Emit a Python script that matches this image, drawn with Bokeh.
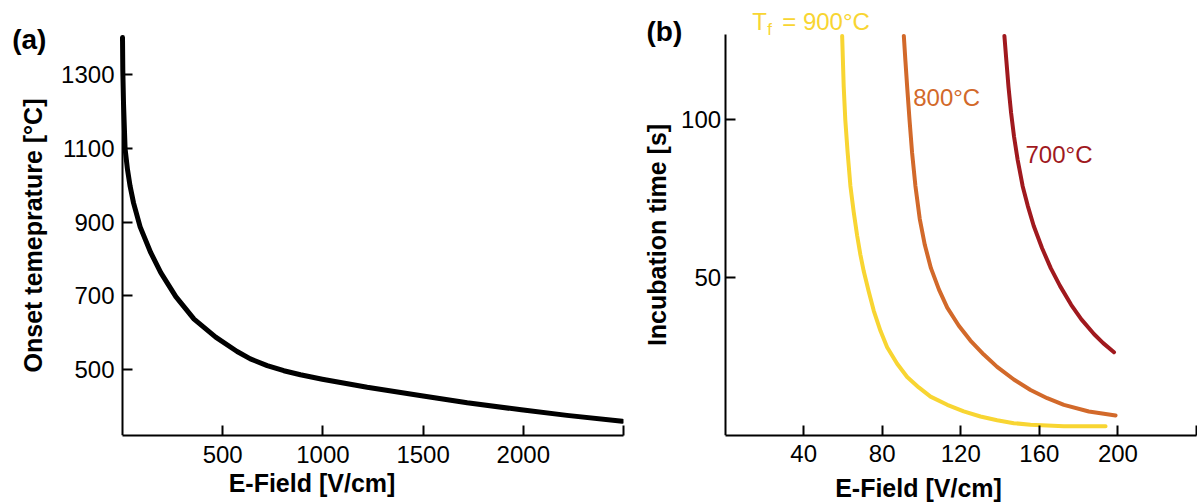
from bokeh.plotting import figure
from bokeh.layouts import row
from bokeh.models import Range1d, FixedTicker, Label
from bokeh.embed import file_html
from bokeh.resources import INLINE

# ---------------- data ----------------
# (a) onset temperature vs E-field
efield_a = [0, 1.5, 5, 13, 25, 38, 55, 88, 141, 191, 266, 357, 465, 572, 638, 722, 805, 888,
            997, 1221, 1492, 1720, 1990, 2218, 2494]
onset_temp = [1400, 1312, 1222, 1098, 1042, 997, 952, 887, 817, 763, 698, 637, 588, 549, 529, 511,
              497, 486, 474, 452, 429, 410, 391, 376, 360]
xticks_a = [500, 1000, 1500, 2000, 2500]
yticks_a = [500, 700, 900, 1100, 1300]

# (b) incubation time vs E-field for three furnace temperatures
efield_900 = [59.6, 60.4, 61.2, 62.4, 63.8, 65.5, 67.2, 68.9, 70.6, 73.1, 75.7, 79.1, 82.5, 87.6,
              92.7, 98.6, 104.6, 113.1, 121.5, 130.0, 138.5, 147.0, 155.5, 172.5, 193.7]
time_900 = [126.3, 110.2, 99.8, 89.4, 78.9, 70.6, 63.3, 57.1, 51.9, 45.6, 39.4, 33.1, 27.9, 22.7,
            18.5, 15.2, 12.3, 9.7, 7.6, 6.0, 4.8, 3.9, 3.4, 2.9, 2.9]
efield_800 = [91.0, 91.8, 92.7, 93.9, 95.2, 96.9, 99.1, 101.7, 104.8, 108.9, 113.1, 119.0, 124.9,
              131.7, 138.5, 147.0, 155.5, 164.0, 172.5, 185.2, 198.8]
time_800 = [126.3, 118.5, 110.2, 99.8, 89.4, 78.9, 68.5, 60.2, 52.9, 46.1, 40.4, 34.7, 30.0,
            25.6, 21.7, 17.7, 14.4, 11.8, 9.7, 7.6, 6.3]
efield_700 = [142.2, 143.2, 144.3, 145.6, 147.1, 148.9, 151.5, 154.1, 157.1, 161.4, 165.8, 170.5,
              176.2, 181.4, 187.9, 192.5, 198.0]
time_700 = [126.3, 118.5, 110.1, 102.0, 94.5, 87.3, 78.8, 72.6, 66.3, 59.2, 52.9, 47.3,
            41.3, 36.7, 32.0, 29.2, 26.3]
xticks_b = [40, 80, 120, 160, 200, 240]
yticks_b = [50, 100]

C900 = "#F8D532"
C800 = "#D2692A"
C700 = "#A0191E"
FONT = "Liberation Sans"


def style(p):
    p.outline_line_color = None
    p.xgrid.visible = False
    p.ygrid.visible = False
    for ax in p.axis:
        ax.axis_line_width = 2
        ax.axis_line_color = "black"
        ax.major_tick_line_width = 2
        ax.major_tick_line_color = "black"
        ax.major_tick_in = 10
        ax.major_tick_out = 0
        ax.minor_tick_line_color = None
        ax.major_label_text_font = FONT
        ax.major_label_text_font_size = "24px"
        ax.major_label_text_color = "black"
        ax.axis_label_text_font = FONT
        ax.axis_label_text_font_size = "25px"
        ax.axis_label_text_font_style = "bold"
        ax.axis_label_text_color = "black"


def label(p, x, y, text, color, size="24px", bold=False):
    p.add_layout(Label(x=x, y=y, text=text, text_font=FONT, text_font_size=size,
                       text_font_style="bold" if bold else "normal",
                       text_color=color, text_baseline="middle", text_align="left"))


# ---------------- panel (a) ----------------
pa = figure(width=640, height=504, output_backend="svg", toolbar_location=None,
            x_range=Range1d(-608.8, 2500), y_range=Range1d(321.4, 1500.6),
            min_border_left=0, min_border_right=17, min_border_top=0, min_border_bottom=67)
style(pa)
pa.line(efield_a, onset_temp, line_width=5, line_color="black", line_cap="round", line_join="round")
pa.xaxis.ticker = FixedTicker(ticks=xticks_a)
pa.xaxis.major_label_overrides = {2500: ""}
pa.xaxis.bounds = (0, 2500)
pa.yaxis.ticker = FixedTicker(ticks=yticks_a)
pa.yaxis.bounds = (321.4, 1406.2)
pa.yaxis.fixed_location = 0
pa.xaxis.axis_label = "E-Field [V/cm]"
pa.yaxis.axis_label = "Onset temeprature [°C]"
pa.xaxis.major_label_standoff = 10
pa.xaxis.axis_label_standoff = 3
pa.yaxis.major_label_standoff = 8
pa.yaxis.axis_label_standoff = 11
label(pa, -550.4, 1394.0, "(a)", "black", size="28px", bold=True)

# ---------------- panel (b) ----------------
pb = figure(width=557, height=504, output_backend="svg", toolbar_location=None,
            x_range=Range1d(-43.06, 240), y_range=Range1d(0, 137.5),
            min_border_left=0, min_border_right=1, min_border_top=0, min_border_bottom=64)
style(pb)
pb.line(efield_900, time_900, line_width=4, line_color=C900, line_cap="round", line_join="round")
pb.line(efield_800, time_800, line_width=4, line_color=C800, line_cap="round", line_join="round")
pb.line(efield_700, time_700, line_width=4, line_color=C700, line_cap="round", line_join="round")
pb.xaxis.ticker = FixedTicker(ticks=xticks_b)
pb.xaxis.major_label_overrides = {240: ""}
pb.xaxis.bounds = (0, 240)
pb.yaxis.ticker = FixedTicker(ticks=yticks_b)
pb.yaxis.bounds = (0, 126.6)
pb.yaxis.fixed_location = 0
pb.xaxis.axis_label = "E-Field [V/cm]"
pb.yaxis.axis_label = "Incubation time [s]"
pb.xaxis.major_label_standoff = 9
pb.xaxis.axis_label_standoff = 9
pb.yaxis.major_label_standoff = 4
pb.yaxis.axis_label_standoff = 7

label(pb, -40.0, 127.84, "(b)", "black", size="28px", bold=True)
label(pb, 13.81, 130.97, "T", C900)
label(pb, 21.44, 128.44, "f", C900, size="17px")
label(pb, 29.08, 130.97, "= 900°C", C900)
label(pb, 95.78, 106.78, "800°C", C800)
label(pb, 152.95, 88.78, "700°C", C700)

layout = row(pa, pb)
open("out.html", "w").write(file_html(layout, INLINE))
